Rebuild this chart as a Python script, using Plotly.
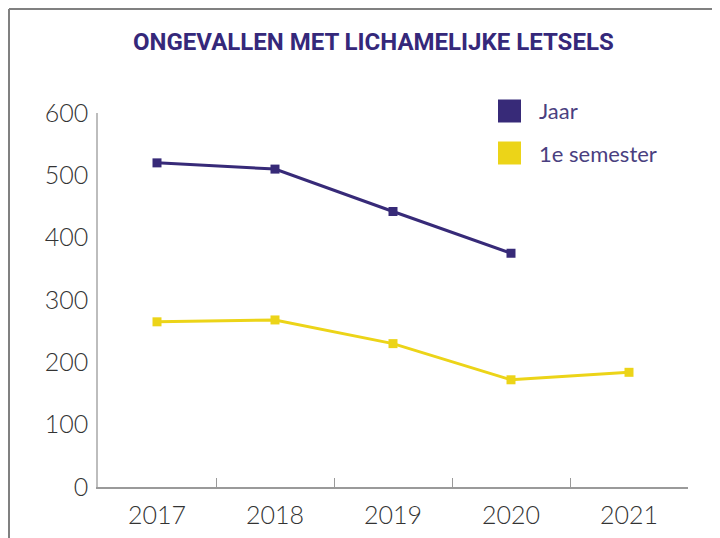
import plotly.graph_objects as go

years = ["2017", "2018", "2019", "2020", "2021"]
jaar = [520, 510, 442, 375, None]
semester = [265, 268, 230, 172, 184]
y_ticks = [0, 100, 200, 300, 400, 500, 600]
series_names = ["Jaar", "1e semester"]

PURPLE = "#372a78"
YELLOW = "#ecd418"

fig = go.Figure()
fig.add_trace(go.Scatter(x=years, y=jaar, mode="lines+markers", name=series_names[0],
                         line=dict(color=PURPLE, width=3),
                         marker=dict(symbol="square", size=9, color=PURPLE),
                         connectgaps=False, showlegend=False))
fig.add_trace(go.Scatter(x=years, y=semester, mode="lines+markers", name=series_names[1],
                         line=dict(color=YELLOW, width=3),
                         marker=dict(symbol="square", size=9, color=YELLOW),
                         showlegend=False))

# the page body adds an 8px offset; margins compensate so the plot lands where the reference has it
fig.update_layout(
    width=720, height=538,
    margin=dict(l=90, r=40, t=105, b=59),
    paper_bgcolor="white", plot_bgcolor="white",
    font=dict(family="Lato", color="#333333"),
    xaxis=dict(type="category", range=[-0.5, 4.5], showgrid=False, automargin=False,
               showline=True, linecolor="#9a9a9a", linewidth=1.5,
               ticks="inside", tickson="boundaries", ticklen=9, tickcolor="#9a9a9a",
               tickwidth=1,
               tickfont=dict(family="Lato", size=25, color="#333333", weight=300),
               ticklabelstandoff=5),
    yaxis=dict(range=[0, 600], tickvals=y_ticks, showgrid=False, zeroline=False,
               automargin=False,
               showline=True, linecolor="#bdbdbd", linewidth=1.5, ticks="",
               tickfont=dict(family="Lato", size=25, color="#333333", weight=300),
               ticklabelstandoff=3),
)

PW, PH = 590, 374
def px(pagex):
    return (pagex - 98) / PW
def py(pagey):
    return (487 - pagey) / PH

# title
fig.add_annotation(text="<b>ONGEVALLEN MET LICHAMELIJKE LETSELS</b>", xref="paper", yref="paper",
                   x=px(373), y=py(42), xanchor="center", yanchor="middle",
                   showarrow=False,
                   font=dict(family="Liberation Sans Narrow, Roboto", size=24, color="#35287a"))

# frame (top and left)
fig.add_shape(type="line", xref="paper", yref="paper", x0=px(9), x1=px(740),
              y0=py(9), y1=py(9), line=dict(color="#808080", width=2))
fig.add_shape(type="line", xref="paper", yref="paper", x0=px(9), x1=px(9),
              y0=py(560), y1=py(9), line=dict(color="#808080", width=2))

# legend (manual)
legend_colors = [PURPLE, YELLOW]
legend_y = [111, 153]
for name, col, yc in zip(series_names, legend_colors, legend_y):
    fig.add_shape(type="rect", xref="paper", yref="paper", x0=px(498), x1=px(521),
                  y0=py(yc + 11.5), y1=py(yc - 11.5),
                  fillcolor=col, line=dict(width=0))
    fig.add_annotation(text=name, xref="paper", yref="paper", x=px(537),
                       y=py(yc), xanchor="left", yanchor="middle", showarrow=False,
                       font=dict(family="Lato", size=22, color="#4a3f80"))

fig.write_html("out.html")
